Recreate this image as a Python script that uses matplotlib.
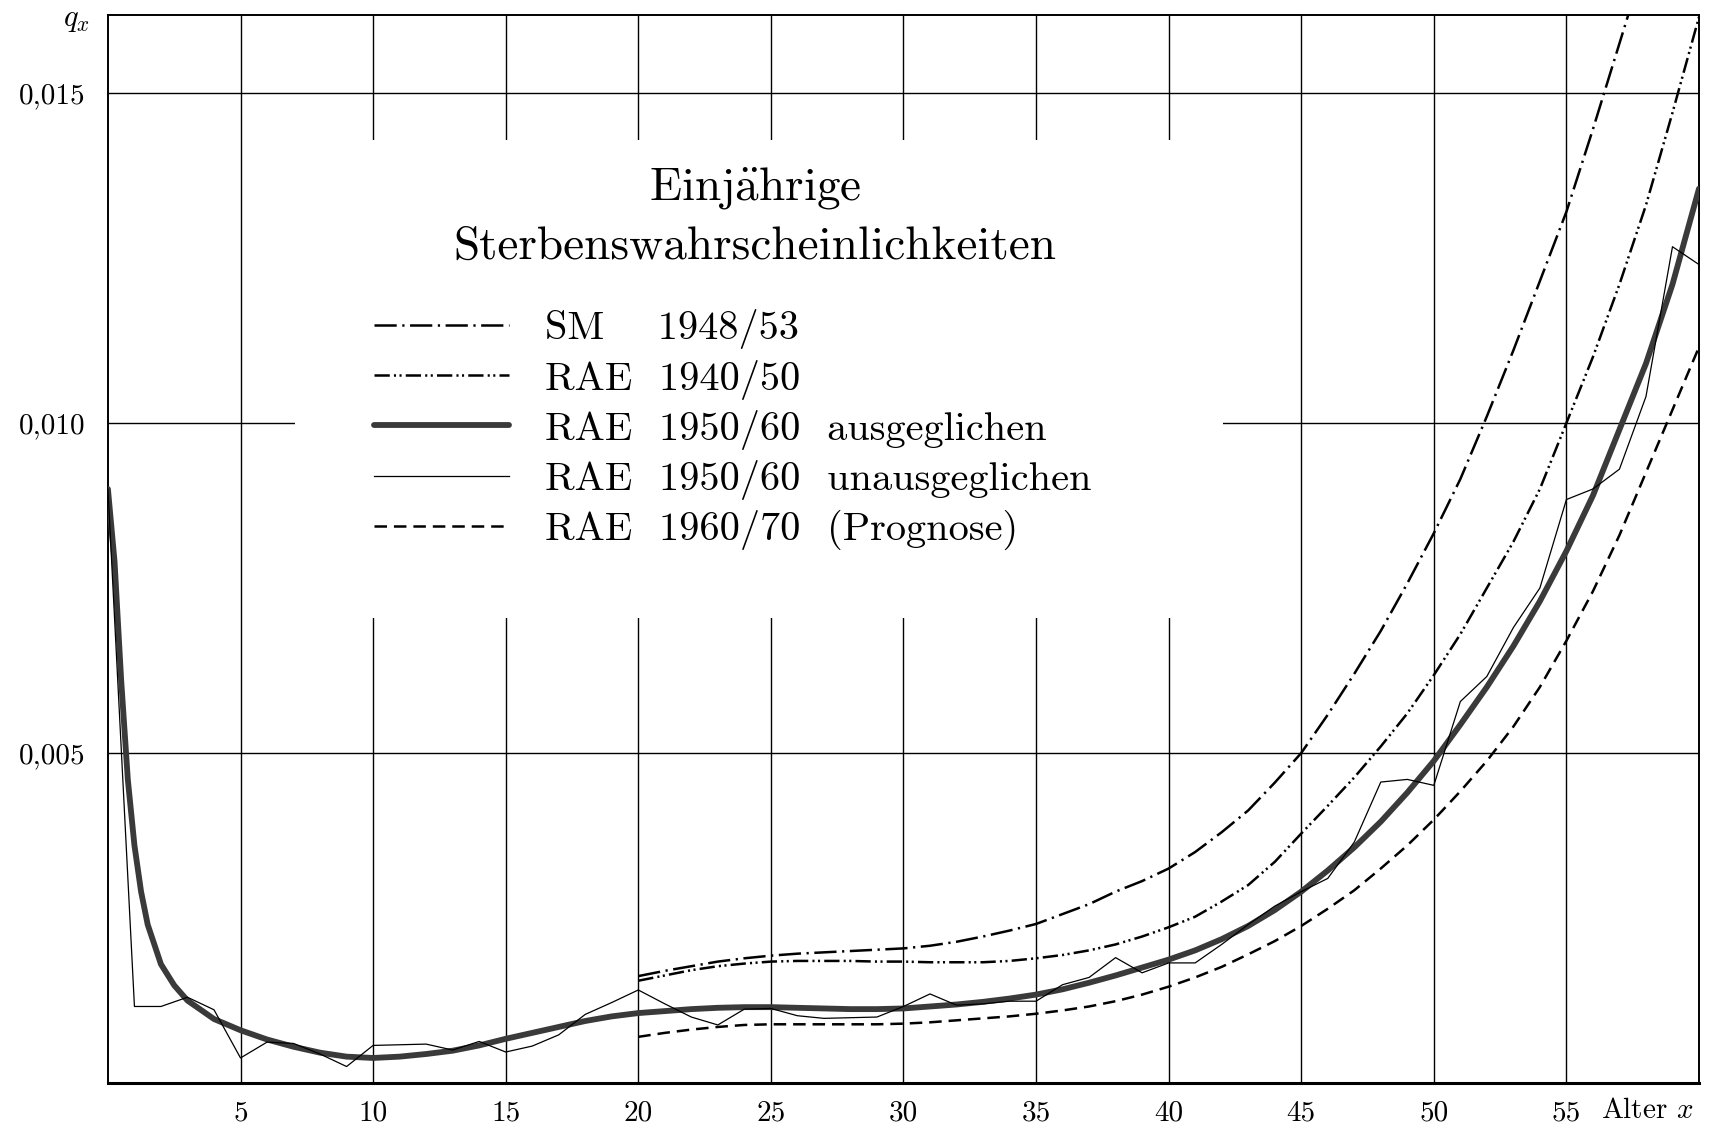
import matplotlib
matplotlib.use("Agg")
import matplotlib.pyplot as plt
from matplotlib.patches import Rectangle

plt.rcParams['font.family'] = ['cmr10', 'DejaVu Serif']
plt.rcParams['mathtext.fontset'] = 'cm'
plt.rcParams['lines.scale_dashes'] = False

# einjaehrige Sterbenswahrscheinlichkeiten q_x
alter_aus = [0, 0.25, 0.5, 0.75, 1, 1.25, 1.5, 2, 2.5, 3, 4, 5, 6, 7, 8, 9, 10, 11,
             12, 13, 14, 15, 16, 17, 18, 19, 20, 21, 22, 23, 24, 25, 26, 27, 28, 29,
             30, 31, 32, 33, 34, 35, 36, 37, 38, 39, 40, 41, 42, 43, 44, 45, 46, 47,
             48, 49, 50, 51, 52, 53, 54, 55, 56, 57, 58, 59, 60]
q_aus = [0.0090, 0.0079, 0.0061, 0.0046, 0.0036, 0.0029, 0.0024, 0.0018, 0.00148,
         0.00125, 0.00097, 0.00080, 0.00066, 0.00055, 0.00046, 0.00040, 0.00038,
         0.00040, 0.00044, 0.00049, 0.00057, 0.00067, 0.00076, 0.00085, 0.00094,
         0.00101, 0.00106, 0.00109, 0.00112, 0.00114, 0.00115, 0.00115, 0.00114,
         0.00113, 0.00112, 0.00112, 0.00113, 0.00116, 0.00119, 0.00123, 0.00128,
         0.00134, 0.00142, 0.00152, 0.00163, 0.00175, 0.00187, 0.00201, 0.00218,
         0.00238, 0.00262, 0.00290, 0.00322, 0.00357, 0.00396, 0.00440, 0.00488,
         0.00543, 0.00600, 0.00662, 0.00730, 0.00806, 0.00890, 0.00990, 0.01090,
         0.01210, 0.01355]

alter_unaus = list(range(0, 61))
q_unaus = [0.0090, 0.00116, 0.00116, 0.00130, 0.00111, 0.00038, 0.00062, 0.00060,
           0.00044, 0.00025, 0.00057, 0.00058, 0.00059, 0.00050, 0.00063, 0.00047,
           0.00056, 0.00073, 0.00104, 0.00122, 0.00141, 0.00120, 0.00100, 0.00088,
           0.00112, 0.00113, 0.00102, 0.00098, 0.00099, 0.00100, 0.00116, 0.00135,
           0.00118, 0.00120, 0.00124, 0.00124, 0.00149, 0.00160, 0.00190, 0.00167,
           0.00182, 0.00182, 0.00210, 0.00240, 0.00268, 0.00290, 0.00310, 0.00365,
           0.00456, 0.00460, 0.00451, 0.00578, 0.00616, 0.00690, 0.00750, 0.00884,
           0.00900, 0.00930, 0.01040, 0.01267, 0.01240]

alter_sm = list(range(20, 59))
q_sm = [0.00162, 0.00170, 0.00177, 0.00184, 0.00189, 0.00193, 0.00196, 0.00198,
        0.00200, 0.00202, 0.00204, 0.00208, 0.00214, 0.00222, 0.00231, 0.00241,
        0.00256, 0.00271, 0.00290, 0.00306, 0.00325, 0.00350, 0.00380, 0.00413,
        0.00455, 0.00500, 0.00558, 0.00620, 0.00685, 0.00757, 0.00833, 0.00915,
        0.01010, 0.01110, 0.01215, 0.01320, 0.01445, 0.01575, 0.01705]

alter_4050 = list(range(20, 61))
q_4050 = [0.00155, 0.00163, 0.00171, 0.00177, 0.00181, 0.00184, 0.00185, 0.00185,
          0.00185, 0.00184, 0.00184, 0.00183, 0.00183, 0.00183, 0.00185, 0.00189,
          0.00194, 0.00201, 0.00210, 0.00222, 0.00236, 0.00252, 0.00275, 0.00300,
          0.00335, 0.00378, 0.00420, 0.00463, 0.00510, 0.00560, 0.00618, 0.00680,
          0.00750, 0.00820, 0.00900, 0.01000, 0.01100, 0.01210, 0.01330, 0.01470,
          0.01615]

alter_6070 = list(range(20, 61))
q_6070 = [0.00070, 0.00076, 0.00081, 0.00085, 0.00088, 0.00089, 0.00089, 0.00089,
          0.00089, 0.00089, 0.00090, 0.00092, 0.00095, 0.00098, 0.00101, 0.00105,
          0.00110, 0.00116, 0.00124, 0.00134, 0.00146, 0.00160, 0.00176, 0.00195,
          0.00215, 0.00238, 0.00264, 0.00292, 0.00325, 0.00360, 0.00399, 0.00442,
          0.00488, 0.00540, 0.00600, 0.00670, 0.00745, 0.00830, 0.00925, 0.01020,
          0.01115]

x_ticks = [5, 10, 15, 20, 25, 30, 35, 40, 45, 50, 55]
y_ticks = [0.005, 0.010, 0.015]
y_ticklabels = ['0,005', '0,010', '0,015']

fig = plt.figure(figsize=(17.24, 11.31), dpi=100)
ax = fig.add_axes([0.0626, 0.0424, 0.9229, 0.9443])

ax.set_xlim(0, 60)
ax.set_ylim(0, 0.01618)
ax.set_xticks(x_ticks)
ax.set_xticklabels([str(t) for t in x_ticks])
ax.set_yticks(y_ticks)
ax.set_yticklabels(y_ticklabels)
ax.tick_params(axis='both', length=0, labelsize=21)
ax.tick_params(axis='x', pad=12)
ax.tick_params(axis='y', pad=16)
ax.grid(True, color='black', lw=1.0)
ax.set_axisbelow(True)
for s in ax.spines.values():
    s.set_linewidth(1.4)
ax.spines['bottom'].set_linewidth(2.2)

# weisses Feld fuer die Legende
ax.add_patch(Rectangle((7.05, 0.00705), 35.0, 0.00723, facecolor='white',
                       edgecolor='none', zorder=1))

ax.plot(alter_sm, q_sm, color='black', lw=1.8,
        dashes=(16, 4, 1.6, 4), label='SM    1948/53', zorder=3)
ax.plot(alter_4050, q_4050, color='black', lw=1.8,
        dashes=(11, 3, 1.5, 2.5, 1.5, 3), label='RAE  1940/50', zorder=3)
ax.plot(alter_aus, q_aus, color='#3a3a3a', lw=4.2, solid_capstyle='round',
        label='RAE  1950/60  ausgeglichen', zorder=4)
ax.plot(alter_unaus, q_unaus, color='black', lw=0.9,
        label='RAE  1950/60  unausgeglichen', zorder=5)
ax.plot(alter_6070, q_6070, color='black', lw=1.8, dashes=(9, 5),
        label='RAE  1960/70  (Prognose)', zorder=3)

ax.legend(loc='upper left', bbox_to_anchor=(10.04, 0.01172),
          bbox_transform=ax.transData, frameon=False, fontsize=29,
          handlelength=3.35, handletextpad=0.9, labelspacing=0.25,
          borderpad=0, borderaxespad=0)

ax.text(24.4, 0.01356, r'$\mathrm{Einj\ddot{a}hrige}$', fontsize=34,
        ha='center', va='center')
ax.text(24.4, 0.01266, 'Sterbenswahrscheinlichkeiten', fontsize=34,
        ha='center', va='center')

ax.annotate(r'$q_x$', xy=(0, 1), xycoords='axes fraction', xytext=(-13, -4),
            textcoords='offset points', ha='right', va='center', fontsize=22)
ax.annotate(r'Alter $x$', xy=(60, 0), xycoords='data', xytext=(-4, -20),
            textcoords='offset points', ha='right', va='center', fontsize=21)

fig.savefig('out.png', dpi=100)
